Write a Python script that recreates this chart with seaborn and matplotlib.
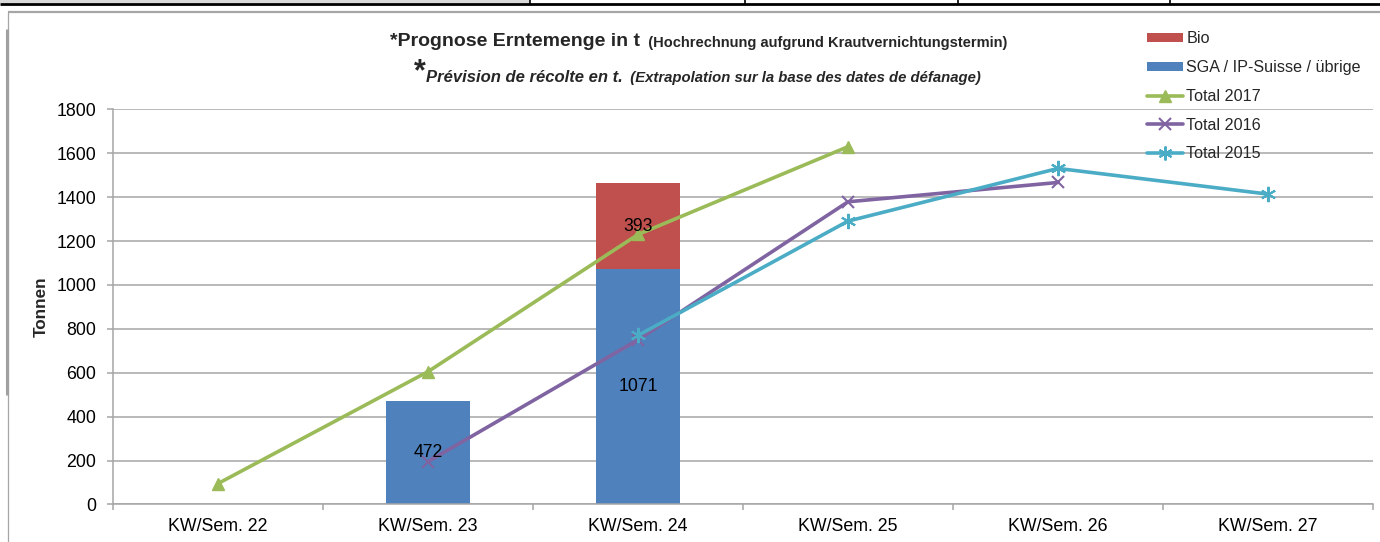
import numpy as np
import pandas as pd
import matplotlib
matplotlib.use("Agg")
import matplotlib.pyplot as plt
import seaborn as sns
from matplotlib.lines import Line2D
from matplotlib.patches import Patch, Rectangle

# ---------------- data ----------------
categories = ["KW/Sem. 22", "KW/Sem. 23", "KW/Sem. 24", "KW/Sem. 25", "KW/Sem. 26", "KW/Sem. 27"]
sga_values = [None, 472, 1071, None, None, None]
bio_values = [None, None, 393, None, None, None]
total_2017 = [95, 605, 1230, 1630, None, None]
total_2016 = [None, 195, 750, 1379, 1467, None]
total_2015 = [None, None, 770, 1291, 1531, 1414]
y_ticks = [0, 200, 400, 600, 800, 1000, 1200, 1400, 1600, 1800]

series_names = ["Bio", "SGA / IP-Suisse / übrige", "Total 2017", "Total 2016", "Total 2015"]

# ---------------- style ----------------
sns.set_style("white")
plt.rcParams["font.family"] = ["Liberation Sans", "DejaVu Sans"]

c_bio = "#C0504D"
c_sga = "#4F81BD"
c_2017 = "#9BBB59"
c_2016 = "#8064A2"
c_2015 = "#4BACC6"
c_grid = "#A6A6A6"

W, H = 1380, 542
fig = plt.figure(figsize=(W / 100, H / 100), dpi=100)
ax = fig.add_axes([113 / W, (H - 504.4) / H, 1260 / W, 395 / H])

# ---------------- bars (stacked) ----------------
df = pd.DataFrame({
    "cat": categories,
    "sga": pd.to_numeric(pd.Series(sga_values), errors="coerce"),
    "bio": pd.to_numeric(pd.Series(bio_values), errors="coerce"),
})
df["stack_top"] = df["sga"].fillna(0) + df["bio"].fillna(0)
df.loc[df["bio"].isna(), "stack_top"] = np.nan

sns.barplot(data=df, x="cat", y="stack_top", order=categories, color=c_bio,
            saturation=1, width=0.4, ax=ax, zorder=2, errorbar=None, linewidth=0)
sns.barplot(data=df, x="cat", y="sga", order=categories, color=c_sga,
            saturation=1, width=0.4, ax=ax, zorder=2, errorbar=None, linewidth=0)

# ---------------- lines ----------------
line_specs = [
    (total_2017, c_2017, "^", 9, 1.0),
    (total_2016, c_2016, "x", 9, 1.5),
    (total_2015, c_2015, (6, 2, 0), 11, 1.5),
]
for vals, col, mk, ms, mew in line_specs:
    pos = [i for i, v in enumerate(vals) if v is not None]
    yv = [v for v in vals if v is not None]
    sns.lineplot(x=pos, y=yv, ax=ax, color=col, linewidth=2.6, marker=mk,
                 markersize=ms, markeredgecolor=col, markerfacecolor=col,
                 markeredgewidth=mew, legend=False, zorder=3)

# ---------------- data labels ----------------
for i, (s, b) in enumerate(zip(sga_values, bio_values)):
    if s is not None:
        ax.text(i, s / 2, f"{s}", ha="center", va="center", fontsize=12.7,
                color="black", zorder=6)
    if b is not None:
        base = s if s is not None else 0
        ax.text(i, base + b / 2, f"{b}", ha="center", va="center", fontsize=12.7,
                color="black", zorder=6)

# ---------------- axes ----------------
ax.set_xlim(-0.5, len(categories) - 0.5)
ax.set_ylim(y_ticks[0], y_ticks[-1])
ax.set_yticks(y_ticks)
ax.set_xticks(range(len(categories)))
ax.set_xticklabels(categories)
ax.set_xticks(np.arange(-0.5, len(categories), 1), minor=True)
ax.set_xlabel("")
ax.set_ylabel("Tonnen", fontsize=12.3, fontweight="bold")
ax.yaxis.set_label_coords(-0.051, 0.5)

ax.grid(axis="y", color=c_grid, linewidth=1.1, zorder=0)
ax.set_axisbelow(True)
for side in ["top", "right"]:
    ax.spines[side].set_visible(False)
for side in ["left", "bottom"]:
    ax.spines[side].set_color(c_grid)
    ax.spines[side].set_linewidth(1.1)

ax.tick_params(axis="y", which="major", length=4, width=1.1, color=c_grid,
               labelsize=12.8, pad=8, left=True, labelcolor="black")
ax.tick_params(axis="x", which="major", length=0, labelsize=12.8, pad=10,
               labelcolor="black")
ax.tick_params(axis="x", which="minor", length=4, width=1.1, color=c_grid,
               bottom=True)

# ---------------- legend ----------------
handles = [
    Patch(facecolor=c_bio, edgecolor="none"),
    Patch(facecolor=c_sga, edgecolor="none"),
    Line2D([], [], color=c_2017, lw=2.6, marker="^", markersize=8,
           markerfacecolor=c_2017, markeredgecolor=c_2017),
    Line2D([], [], color=c_2016, lw=2.6, marker="x", markersize=8,
           markeredgecolor=c_2016, markeredgewidth=1.5),
    Line2D([], [], color=c_2015, lw=2.6, marker=(6, 2, 0), markersize=10,
           markeredgecolor=c_2015, markeredgewidth=1.5),
]
fig.legend(handles, series_names, loc="upper left",
           bbox_to_anchor=(1147 / W, 1 - 31 / H), frameon=False,
           fontsize=11.6, handlelength=2.25, handleheight=0.5,
           handletextpad=0.2, labelspacing=0.86, borderpad=0, borderaxespad=0)

# ---------------- title ----------------
t1 = fig.text(390 / W, 1 - 46 / H, "*Prognose Erntemenge in t", fontsize=14,
              fontweight="bold", va="baseline", ha="left")
ax.annotate("  (Hochrechnung aufgrund Krautvernichtungstermin)", xy=(1, 0),
            xycoords=t1, va="bottom", ha="left", fontsize=10.5,
            fontweight="bold", annotation_clip=False)
t3 = fig.text(414 / W, 1 - 80 / H, "*", fontsize=22, fontweight="bold",
              va="baseline", ha="left")
t4 = ax.annotate("Prévision de récolte en t.", xy=(1, 0.08), xycoords=t3,
                 va="bottom", ha="left", fontsize=12, fontweight="bold",
                 fontstyle="italic", annotation_clip=False)
ax.annotate("  (Extrapolation sur la base des dates de défanage)", xy=(1, 0),
            xycoords=t4, va="bottom", ha="left", fontsize=10.7,
            fontweight="bold", fontstyle="italic", annotation_clip=False)

# ---------------- frame decorations ----------------
def px_line(x0, y0, x1, y1, color, lw):
    fig.add_artist(Line2D([x0 / W, x1 / W], [1 - y0 / H, 1 - y1 / H],
                          transform=fig.transFigure, color=color, lw=lw,
                          solid_capstyle="butt"))

fig.add_artist(Rectangle((0, 1 - 3 / H), 530 / W, 3 / H, transform=fig.transFigure,
                         facecolor="#D9D9D9", edgecolor="none"))
px_line(0, 3.5, W, 3.5, "black", 2.0)
for xv in [530, 745, 958, 1170]:
    px_line(xv, 0, xv, 3.5, "black", 1.2)
px_line(8, 12, W, 12, c_grid, 1.6)
px_line(8, 12, 8, H, c_grid, 0.9)
px_line(6.5, 29, 6.5, 395, "#A0A0A0", 2.2)

fig.savefig("out.png", dpi=100)
